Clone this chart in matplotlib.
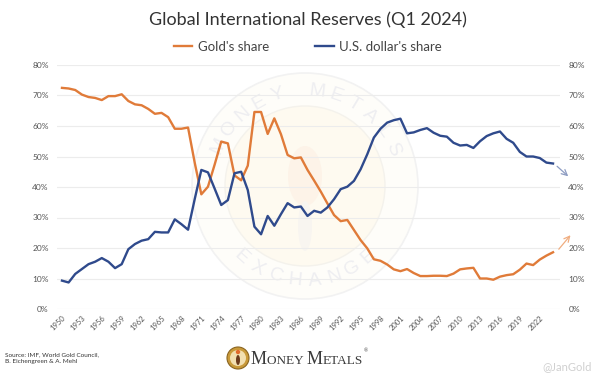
import matplotlib
matplotlib.use("Agg")
import matplotlib.pyplot as plt
import numpy as np
from matplotlib.patches import Circle, Ellipse

# shares of global international reserves, percent
years = list(range(1950, 2025))
gold_share = [72.5, 72.3, 71.8, 70.3, 69.5, 69.2, 68.5, 69.8, 69.8, 70.4,
              68.2, 67.1, 66.8, 65.6, 64.0, 64.3, 62.9, 59.1, 59.1, 59.5,
              48.0, 37.6, 40.1, 47.3, 54.9, 54.3, 43.8, 42.2, 47.0, 64.6,
              64.6, 57.4, 62.5, 57.3, 50.5, 49.4, 49.7, 45.6, 42.1, 38.5,
              34.6, 30.8, 28.8, 29.2, 25.9, 22.6, 19.9, 16.3, 15.8, 14.6,
              13.0, 12.4, 13.1, 11.8, 10.8, 10.8, 10.9, 10.9, 10.8, 11.6,
              13.0, 13.3, 13.5, 10.0, 10.0, 9.6, 10.6, 11.1, 11.4, 12.9,
              14.9, 14.4, 16.2, 17.5, 18.6]
usd_share = [9.3, 8.7, 11.5, 13.1, 14.7, 15.5, 16.7, 15.5, 13.4, 14.7,
             19.6, 21.3, 22.4, 22.9, 25.3, 25.1, 25.1, 29.4, 27.8, 26.0,
             36.0, 45.6, 44.8, 39.5, 34.1, 35.7, 44.5, 45.0, 39.0, 27.0,
             24.5, 30.5, 27.3, 31.1, 34.7, 33.3, 33.6, 30.5, 32.2, 31.6,
             33.3, 36.0, 39.3, 40.1, 42.0, 45.8, 50.7, 56.2, 59.1, 61.1,
             61.9, 62.4, 57.6, 57.9, 58.7, 59.3, 57.8, 56.8, 56.5, 54.5,
             53.6, 53.8, 52.8, 55.0, 56.7, 57.6, 58.2, 55.8, 54.5, 51.5,
             50.0, 50.0, 49.5, 48.0, 47.7]
tick_years = list(range(1950, 2023, 3))
y_ticks = list(range(0, 90, 10))

GOLD = "#e07b39"
USD = "#2f4a8c"
FONT = ["Lato", "DejaVu Sans"]
plt.rcParams["font.family"] = FONT

fig = plt.figure(figsize=(6.07, 3.75), dpi=100)

# background layer in pixel units (watermark, logo, footer)
bg = fig.add_axes([0, 0, 1, 1], zorder=0)
bg.set_xlim(0, 607)
bg.set_ylim(375, 0)
bg.axis("off")

cx, cy = 305, 186
bg.add_patch(Circle((cx, cy), 113, fc="#fefdf9", ec="#f2f2f2", lw=1.2))
bg.add_patch(Circle((cx, cy), 80, fc="#fefaf0", ec="#f4f2ec", lw=1.0))
bg.add_patch(Ellipse((cx, cy - 10), 34, 60, fc="#fdf3e8", ec="none"))
bg.add_patch(Ellipse((cx, cy + 40), 14, 50, fc="#f8f5f0", ec="none"))
for word, a0, step, upper in [("MONEY METALS", 155, -12, True),
                              ("EXCHANGE", 228, 12, False)]:
    for i, ch in enumerate(word):
        a = np.radians(a0 + i * step)
        x = cx + 95 * np.cos(a)
        y = cy - 95 * np.sin(a)
        rot = np.degrees(a) - 90 if upper else np.degrees(a) + 90
        bg.text(x, y, ch, fontsize=14, color="#eeeef1", rotation=rot,
                ha="center", va="center", family=["Liberation Sans"])

# footer
bg.text(5, 358, "Source: IMF, World Gold Council,\nB. Eichengreen & A. Mehl",
        fontsize=4.6, color="#333333", va="center", linespacing=1.5)
bg.text(592, 367, "@JanGold", fontsize=8, color="#d0d0d0", ha="right", va="center")
bg.add_patch(Circle((238, 358), 11, fc="#c99a3a", ec="#8a6420", lw=0.8))
bg.add_patch(Circle((238, 358), 8, fc="#f2dfb0", ec="none"))
bg.add_patch(Ellipse((238, 360), 4, 10, fc="#6b3a1c", ec="none"))
bg.add_patch(Circle((238, 352), 2.2, fc="#e26a2c", ec="none"))

fig.canvas.draw()
renderer = fig.canvas.get_renderer()
x = 251
for part, size in [("M", 13), ("ONEY ", 9.5), ("M", 13), ("ETALS", 9.5)]:
    t = bg.text(x, 364, part, fontsize=size, color="#3a3a3a", va="baseline",
                family=["Liberation Serif"])
    bb = t.get_window_extent(renderer)
    x += bb.width
bg.text(x + 1, 352, "®", fontsize=4, color="#3a3a3a", family=["Liberation Serif"])

# main chart
ax = fig.add_axes([57 / 607, 1 - 309 / 375, 503 / 607, 244 / 375], zorder=1)
ax.patch.set_alpha(0)
ax.plot(years, gold_share, color=GOLD, lw=1.7, label="Gold's share")
ax.plot(years, usd_share, color=USD, lw=1.7, label="U.S. dollar's share")

ax.set_xlim(years[0] - 0.75, years[-1] + 1.05)
ax.set_ylim(0, 80)
ax.set_yticks(y_ticks)
ax.set_yticklabels([f"{v}%" for v in y_ticks])
ax.set_xticks(tick_years)
ax.set_xticklabels([str(y) for y in tick_years], rotation=45, ha="right",
                   rotation_mode="anchor")
ax.grid(axis="y", color="#ececec", lw=0.8)
ax.set_axisbelow(True)
for s in ax.spines.values():
    s.set_visible(False)
ax.tick_params(axis="y", length=0, labelsize=6, labelcolor="#555555",
               labelright=True, pad=6)
ax.tick_params(axis="x", length=0, labelsize=5.5, labelcolor="#555555", pad=4)

# trend arrows off the last points
ax.annotate("", xy=(years[-1] + 2.6, usd_share[-1] - 4.8),
            xytext=(years[-1] + 0.3, usd_share[-1] - 0.3),
            arrowprops=dict(arrowstyle="->", color="#8d9cc2", lw=0.9),
            annotation_clip=False)
ax.annotate("", xy=(years[-1] + 2.9, gold_share[-1] + 6.3),
            xytext=(years[-1] + 0.6, gold_share[-1] + 0.3),
            arrowprops=dict(arrowstyle="->", color="#f0ad80", lw=0.9),
            annotation_clip=False)

fig.text(0.507, 0.948, "Global International Reserves (Q1 2024)", fontsize=13,
         color="#333333", ha="center", va="center")
fig.legend(loc="center", bbox_to_anchor=(0.507, 0.875), ncol=2, frameon=False,
           fontsize=9.5, handlelength=1.4, handletextpad=0.4, columnspacing=3.5,
           labelcolor="#444444")

fig.savefig("out.png", dpi=100)
